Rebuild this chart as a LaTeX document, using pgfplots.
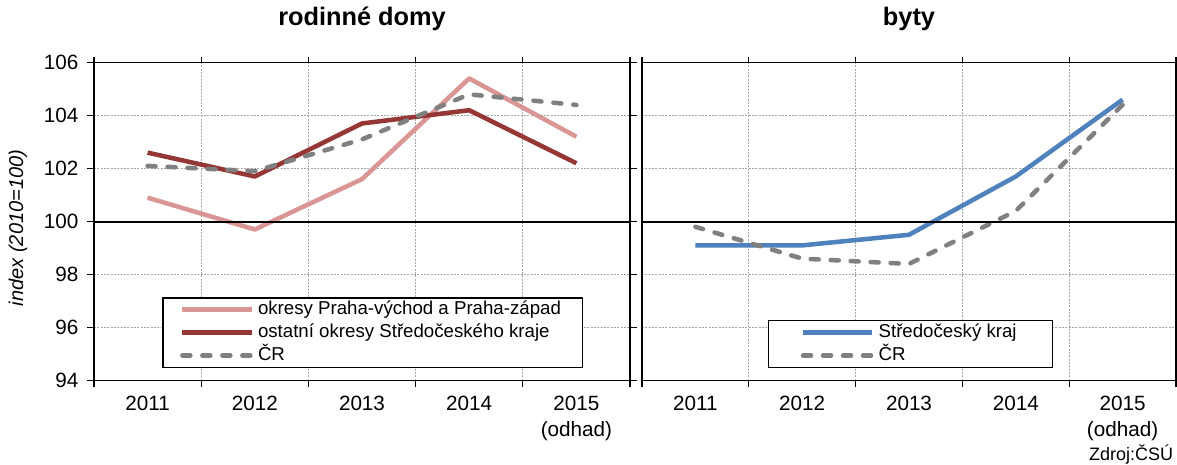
\documentclass[border=0pt]{standalone}
\usepackage{fontspec}
\setmainfont{Liberation Sans}
\usepackage{pgfplots}
\pgfplotsset{compat=1.18}
\definecolor{cpink}{RGB}{217,150,148}
\definecolor{cdred}{RGB}{149,55,53}
\definecolor{cblue}{RGB}{79,129,189}
\definecolor{cgray}{RGB}{128,128,128}
\pgfplotsset{
  panel/.style={
    scale only axis,
    width=402pt, height=238.5pt,
    xmin=0.5, xmax=5.5, ymin=94, ymax=106,
    xtick={1,2,3,4,5},
    xticklabels={2011,2012,2013,2014,{2015\\(odhad)}},
    minor xtick={0.5,1.5,2.5,3.5,4.5,5.5},
    ytick={94,96,98,100,102,104,106},
    ymajorgrids, xminorgrids,
    major grid style={gray!70, line width=0.5pt, dash pattern=on 1.5pt off 1pt},
    minor grid style={gray!70, line width=0.5pt, dash pattern=on 1.5pt off 1pt},
    tick align=outside,
    x tick style={draw=none},
    minor x tick style={draw=black, line width=1pt},
    minor tick length=4.5pt,
    major tick length=5.25pt,
    y tick style={black, line width=1pt},
    axis line style={black, line width=1.2pt},
    tick label style={font=\fontsize{15.5}{19}\selectfont, /pgf/number format/assume math mode=true},
    xticklabel style={align=center, yshift=-3pt},
    title style={font=\fontsize{19}{22}\bfseries, at={(0.5,1)}, anchor=center, yshift=26.8pt},
    legend cell align=left,
    legend style={draw=black, line width=1.1pt, font=\fontsize{14}{17}\selectfont,
      inner ysep=0.3pt, row sep=0pt,
      nodes={text height=10pt, text depth=3.2pt, inner ysep=2pt, inner xsep=3pt},
      legend image code/.code={\draw[##1] (0pt,0pt) -- (52pt,0pt);}},
    every axis plot/.append style={line width=3.4pt, line join=round},
  },
  crdash/.style={cgray, line cap=round, dash pattern=on 6pt off 9pt},
}
\begin{document}
\begin{tikzpicture}
\path[use as bounding box] (0,0) rectangle (882.75pt,348pt);
\begin{axis}[panel, at={(70.5pt,62.6pt)}, anchor=south west,
  title={rodinné domy},
  ylabel={\itshape index (2010=100)},
  ylabel style={font=\fontsize{15}{18}\selectfont, at={(axis description cs:-0.142,0.48)}, anchor=center},
  yticklabel style={xshift=-3pt},
  legend style={at={(0.127,0.039)}, anchor=south west, inner xsep=13pt},
]
\addplot[cpink] coordinates {(1,100.9) (2,99.7) (3,101.6) (4,105.4) (5,103.2)};
\addlegendentry{okresy Praha-východ a Praha-západ}
\addplot[cdred] coordinates {(1,102.6) (2,101.7) (3,103.7) (4,104.2) (5,102.2)};
\addlegendentry{ostatní okresy Středočeského kraje}
\addplot[crdash] coordinates {(1,102.1) (2,101.9) (3,103.1) (4,104.8) (5,104.4)};
\addlegendentry{ČR}
\addplot[black, line width=1.5pt, forget plot] coordinates {(0.5,100) (5.5,100)};
\end{axis}
\begin{axis}[panel, at={(481.5pt,62.6pt)}, anchor=south west, width=400.5pt,
  title={byty},
  yticklabels={},
  y tick style={draw=none},
  legend style={at={(0.236,0.039)}, anchor=south west, inner xsep=24pt},
]
\addplot[cblue] coordinates {(1,99.1) (2,99.1) (3,99.5) (4,101.7) (5,104.6)};
\addlegendentry{Středočeský kraj}
\addplot[crdash] coordinates {(1,99.8) (2,98.6) (3,98.4) (4,100.4) (5,104.4)};
\addlegendentry{ČR}
\addplot[black, line width=1.5pt, forget plot] coordinates {(0.5,100) (5.5,100)};
\end{axis}
\node[anchor=base east, font=\fontsize{13.5}{16}\selectfont, inner sep=0pt] at (880pt,2.4pt) {Zdroj:ČSÚ};
\end{tikzpicture}
\end{document}
